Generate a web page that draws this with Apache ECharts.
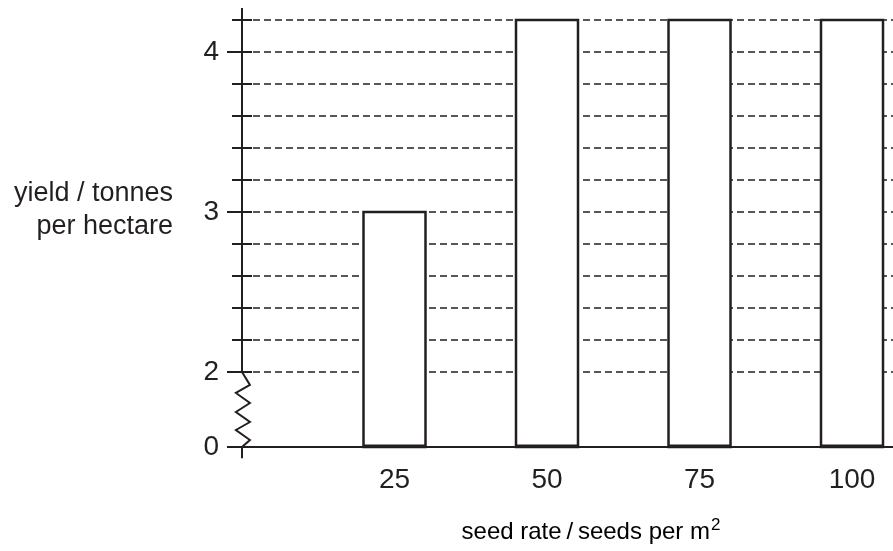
<!DOCTYPE html>
<html>
<head>
<meta charset="utf-8">
<script src="https://cdn.jsdelivr.net/npm/echarts@6/dist/echarts.min.js"></script>
<style>
    html, body { margin: 0; padding: 0; background: #fff; }
    #chart { width: 893px; height: 551px; }
</style>
</head>
<body>
<div id="chart"></div>
<script>
// seed rate (seeds per m2) and yield (tonnes per hectare)
const seedRates = [25, 50, 75, 100]
const yields = [3.0, 4.2, 4.2, 4.2]

// the axis is broken between 0 and 2: real 0 is drawn at this position
const zeroPos = 1.53125
const yMax = 4.275
const xMax = 106.72

const yGridValues = [2, 2.2, 2.4, 2.6, 2.8, 3, 3.2, 3.4, 3.6, 3.8, 4, 4.2]
const yMajorValues = [0, 2, 3, 4]
const xLabelValues = [25, 50, 75, 100]

// zigzag of the break, as [x offset, y] pairs
const zigX = [0, 1.3, -1.0, 1.3, -1.0, 1.3, -1.0, 1.3, 0]
const zigY = [2, 1.919, 1.869, 1.806, 1.75, 1.6875, 1.6375, 1.575, zeroPos]

const ink = '#231f20'
const font = '"Liberation Sans", Arial, Helvetica, sans-serif'
const barWidth = 62

function toAxis(v) {
    // real value -> position on the broken axis
    return v < 2 ? zeroPos : v
}

function axisPath() {
    const pts = [[0, yMax], [0, 2]]
    for (let i = 0; i < zigX.length; i++) {
        pts.push([zigX[i], zigY[i]])
    }
    // short stub of the axis below 0
    pts.push([0, zeroPos - 0.07])
    return pts
}

function renderBar(params, api) {
    const top = api.coord([api.value(0), api.value(1)])
    const base = api.coord([api.value(0), zeroPos])
    return {
        type: 'group',
        children: [
            {
                type: 'rect',
                shape: {
                    x: top[0] - barWidth / 2,
                    y: top[1],
                    width: barWidth,
                    height: base[1] - top[1],
                },
                style: { fill: '#fff', stroke: ink, lineWidth: 2.5 },
            },
            {
                // the base of each bar is drawn a little heavier
                type: 'line',
                shape: {
                    x1: top[0] - barWidth / 2,
                    y1: base[1] - 1,
                    x2: top[0] + barWidth / 2,
                    y2: base[1] - 1,
                },
                style: { stroke: ink, lineWidth: 3 },
            },
        ],
    }
}

function renderSpine(params, api) {
    // draw the whole spine once, from the first data item
    if (params.dataIndex !== 0) {
        return null
    }
    const pts = axisPath().map(p => api.coord(p))
    return {
        type: 'polyline',
        shape: { points: pts },
        style: { stroke: ink, lineWidth: 2, fill: null },
    }
}

const chart = echarts.init(document.getElementById('chart'), null, {renderer: 'canvas'})

const majorPos = yMajorValues.map(toAxis)
const tickPos = [zeroPos].concat(yGridValues)

const option = {
    animation: false,
    grid: {
        left: 242,
        right: 0,
        top: 8,
        bottom: 104,
    },
    xAxis: {
        type: 'value',
        min: 0,
        max: xMax,
        axisLine: {
            show: true,
            lineStyle: { color: ink, width: 2 }
        },
        axisTick: { show: false },
        splitLine: { show: false },
        axisLabel: {
            customValues: xLabelValues,
            margin: 19,
            color: ink,
            fontSize: 28,
            fontFamily: font,
        },
    },
    yAxis: [
        {
            type: 'value',
            position: 'left',
            min: zeroPos,
            max: yMax,
            axisLine: { show: false },
            axisTick: {
                show: true,
                customValues: tickPos,
                length: 10,
                lineStyle: { color: ink, width: 2 }
            },
            axisLabel: {
                customValues: majorPos,
                margin: 23,
                color: ink,
                fontSize: 28,
                fontFamily: font,
                formatter: v => (v < 2 ? '0' : String(Math.round(v)))
            },
            splitLine: {
                show: true,
                lineStyle: { color: ink, width: 1.5, type: [7, 4] }
            },
        },
        {
            type: 'value',
            position: 'left',
            min: zeroPos,
            max: yMax,
            axisLine: { show: false },
            axisTick: {
                show: true,
                customValues: majorPos,
                length: 15,
                lineStyle: { color: ink, width: 2 }
            },
            axisLabel: { show: false },
            splitLine: { show: false },
        },
        {
            type: 'value',
            position: 'left',
            min: zeroPos,
            max: yMax,
            axisLine: { show: false },
            axisTick: {
                show: true,
                inside: true,
                customValues: yGridValues,
                length: 10,
                lineStyle: { color: ink, width: 2 }
            },
            axisLabel: { show: false },
            splitLine: { show: false },
        },
    ],
    series: [
        {
            type: 'custom',
            name: 'yield',
            renderItem: renderBar,
            encode: { x: 0, y: 1 },
            data: seedRates.map((x, i) => [x, toAxis(yields[i])]),
            z: 3,
        },
        {
            // y axis spine with the zigzag break
            type: 'custom',
            renderItem: renderSpine,
            data: [[0, 2]],
            clip: false,
            silent: true,
            z: 5,
        },
    ],
    graphic: [
        {
            type: 'text',
            x: 173,
            y: 210,
            style: {
                text: 'yield / tonnes\nper hectare',
                fill: ink,
                font: '27px ' + font,
                align: 'right',
                verticalAlign: 'middle',
                lineHeight: 33,
            },
        },
        {
            type: 'text',
            x: 591,
            y: 532,
            style: {
                text: '{a|seed rate\u2009/\u2009seeds per m}{s|2}',
                align: 'center',
                verticalAlign: 'middle',
                rich: {
                    a: { fontSize: 24, fontFamily: font, color: ink, lineHeight: 30 },
                    s: { fontSize: 17, fontFamily: font, color: ink, lineHeight: 30, verticalAlign: 'top', padding: [0, 0, 10, 1] },
                },
            },
        },
    ],
}

chart.setOption(option)
</script>
</body>
</html>
